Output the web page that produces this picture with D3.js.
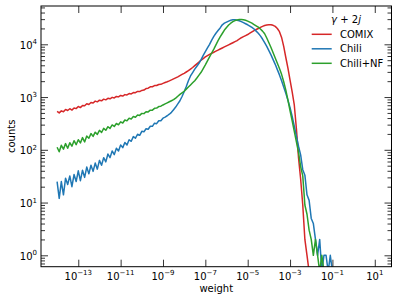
<!DOCTYPE html>
<html>
<head>
<meta charset="utf-8">
<script src="https://cdn.jsdelivr.net/npm/d3@7"></script>
<style>
  body { margin: 0; background: #fff; }
  svg { display: block; }
  text { font-family: "DejaVu Sans", sans-serif; fill: #000; }
</style>
</head>
<body>
<div id="chart"></div>
<script>
// bin centres, as log10(weight)
var logW = [
  -14.0, -13.9, -13.8, -13.7, -13.6, -13.5, -13.4, -13.3, -13.2, -13.1,
  -13.0, -12.9, -12.8, -12.7, -12.6, -12.5, -12.4, -12.3, -12.2, -12.1,
  -12.0, -11.9, -11.8, -11.7, -11.6, -11.5, -11.4, -11.3, -11.2, -11.1,
  -11.0, -10.9, -10.8, -10.7, -10.6, -10.5, -10.4, -10.3, -10.2, -10.1,
  -10.0, -9.9, -9.8, -9.7, -9.6, -9.5, -9.4, -9.3, -9.2, -9.1,
  -9.0, -8.9, -8.8, -8.7, -8.6, -8.5, -8.4, -8.3, -8.2, -8.1,
  -8.0, -7.9, -7.8, -7.7, -7.6, -7.5, -7.4, -7.3, -7.2, -7.1,
  -7.0, -6.9, -6.8, -6.7, -6.6, -6.5, -6.4, -6.3, -6.2, -6.1,
  -6.0, -5.9, -5.8, -5.7, -5.6, -5.5, -5.4, -5.3, -5.2, -5.1,
  -5.0, -4.9, -4.8, -4.7, -4.6, -4.5, -4.4, -4.3, -4.2, -4.1,
  -4.0, -3.9, -3.8, -3.7, -3.6, -3.5, -3.4, -3.3, -3.2, -3.1,
  -3.0, -2.9, -2.8, -2.7, -2.6, -2.5, -2.4, -2.3, -2.2, -2.1,
  -2.0, -1.9, -1.8, -1.7, -1.6, -1.5, -1.4, -1.3, -1.2, -1.1,
  -1.0
]

var comix = [
  537, 501, 547, 527, 583, 556, 601, 566, 619, 604,
  661, 631, 690, 682, 746, 721, 787, 771, 838, 811,
  871, 849, 912, 885, 946, 927, 986, 962, 1028, 1007,
  1072, 1045, 1112, 1094, 1164, 1146, 1219, 1208, 1279, 1268,
  1337, 1355, 1449, 1472, 1567, 1570, 1648, 1656, 1730, 1742,
  1820, 1888, 1954, 2028, 2113, 2208, 2307, 2410, 2541, 2679,
  2818, 2985, 3162, 3388, 3631, 3936, 4266, 4624, 5012, 5370,
  5754, 6095, 6457, 6761, 7079, 7413, 7762, 8128, 8511, 8913,
  9333, 9772, 10233, 10715, 11220, 11749, 12589, 13335, 13964, 14622,
  15311, 16218, 17179, 18197, 19055, 19953, 20893, 21878, 22646, 23174,
  23442, 23442, 22909, 21878, 19953, 17378, 13490, 9120, 5623, 3548,
  2089, 1259, 708, 251, 71, 28, 9, 2, 1, 0,
  0, 0, 0, 0, 0, 0, 0, 0, 0, 0,
  0
]

var chili = [
  25, 12, 25, 14, 29, 22, 32, 20, 34, 25,
  40, 26, 41, 30, 47, 35, 51, 39, 56, 43,
  63, 51, 71, 59, 83, 71, 95, 81, 107, 95,
  123, 110, 138, 123, 155, 145, 178, 166, 197, 188,
  224, 219, 251, 245, 279, 279, 320, 313, 355, 355,
  398, 417, 442, 473, 513, 575, 646, 741, 851, 1023,
  1259, 1585, 2042, 2512, 2917, 3388, 3846, 4365, 5129, 6166,
  7244, 8511, 10000, 12023, 14125, 16218, 18197, 20417, 23442, 25119,
  26303, 27542, 28510, 29174, 29174, 28510, 27861, 26915, 25704, 24547,
  23442, 22131, 20893, 19498, 17783, 16218, 14454, 12589, 10715, 9120,
  7586, 6310, 5129, 4169, 3311, 2630, 2042, 1549, 1175, 871,
  631, 427, 282, 182, 117, 80, 42, 33, 14, 11,
  5, 4, 2, 1, 2, 0, 1, 1, 0, 1,
  0
]

var chiliNF = [
  112, 92, 122, 103, 131, 107, 136, 117, 149, 125,
  155, 135, 170, 141, 182, 166, 203, 180, 216, 196,
  234, 213, 255, 234, 274, 254, 296, 277, 315, 298,
  339, 322, 368, 354, 395, 385, 428, 414, 457, 449,
  490, 485, 527, 522, 565, 565, 611, 617, 661, 670,
  708, 741, 776, 813, 851, 891, 955, 1035, 1122, 1202,
  1288, 1413, 1549, 1698, 1862, 2042, 2291, 2600, 2951, 3467,
  4074, 4842, 5754, 6839, 8128, 9772, 11749, 13804, 16032, 18621,
  20893, 23174, 25119, 26915, 28184, 28973, 29512, 29512, 29174, 28510,
  27542, 26303, 25119, 23714, 22387, 21135, 19498, 17783, 15849, 13183,
  10715, 8710, 6918, 5495, 4365, 3467, 2692, 1950, 1349, 871,
  550, 355, 224, 141, 89, 48, 32, 9, 6, 3,
  2, 1, 2, 1, 0, 1, 0, 0, 0, 0,
  0
]

var seriesNames = ["COMIX", "Chili", "Chili+NF"]
var seriesColors = ["#d62728", "#1f77b4", "#2ca02c"]
var xTickExp = [-13, -11, -9, -7, -5, -3, -1, 1]
var yTickExp = [0, 1, 2, 3, 4]

var width = 398,
    height = 302,
    margin = {top: 6, right: 6.5, bottom: 35.3, left: 41}

var svg = d3.select("#chart")
  .append("svg")
    .attr("width", width)
    .attr("height", height)

var x = d3.scaleLog()
  .domain([Math.pow(10, -14.76), Math.pow(10, 1.79)])
  .range([margin.left, width - margin.right])

var y = d3.scaleLog()
  .domain([Math.pow(10, -0.216), Math.pow(10, 4.726)])
  .range([height - margin.bottom, margin.top])

var x0 = margin.left, x1 = width - margin.right
var y0 = height - margin.bottom, y1 = margin.top

svg.append("clipPath").attr("id", "plotclip")
  .append("rect")
    .attr("x", x0).attr("y", y1)
    .attr("width", x1 - x0).attr("height", y0 - y1)

// histogram outlines, empty bins drop below the frame
var line = d3.line()
  .x(function(d) { return x(Math.pow(10, d[0])) })
  .y(function(d) { return d[1] > 0 ? y(d[1]) : y0 + 5 })

var allSeries = [comix, chili, chiliNF]
var plot = svg.append("g").attr("clip-path", "url(#plotclip)")
allSeries.forEach(function(vals, i) {
  plot.append("path")
    .datum(logW.map(function(e, j) { return [e, vals[j]] }))
    .attr("d", line)
    .attr("fill", "none")
    .attr("stroke", seriesColors[i])
    .attr("stroke-width", 1.5)
    .attr("stroke-linejoin", "round")
})

// ticks, pointing inwards on all four sides
var xTicks = xTickExp.map(function(e) { return Math.pow(10, e) })
var yTicks = yTickExp.map(function(e) { return Math.pow(10, e) })
var yMinor = y.ticks().filter(function(v) {
  var l = Math.log10(v)
  return Math.abs(l - Math.round(l)) > 1e-6
})

function styleAxis(g) {
  g.select(".domain").remove()
  g.selectAll("line").attr("stroke", "#000").attr("stroke-width", 0.8)
  g.selectAll("text").remove()
}

svg.append("g").attr("transform", "translate(0," + y0 + ")")
  .call(d3.axisBottom(x).tickValues(xTicks).tickSize(-7).tickFormat("")).call(styleAxis)
svg.append("g").attr("transform", "translate(0," + y1 + ")")
  .call(d3.axisTop(x).tickValues(xTicks).tickSize(-7).tickFormat("")).call(styleAxis)
svg.append("g").attr("transform", "translate(" + x0 + ",0)")
  .call(d3.axisLeft(y).tickValues(yTicks).tickSize(-7).tickFormat("")).call(styleAxis)
svg.append("g").attr("transform", "translate(" + x0 + ",0)")
  .call(d3.axisLeft(y).tickValues(yMinor).tickSize(-4).tickFormat("")).call(styleAxis)
svg.append("g").attr("transform", "translate(" + x1 + ",0)")
  .call(d3.axisRight(y).tickValues(yTicks).tickSize(-7).tickFormat("")).call(styleAxis)
svg.append("g").attr("transform", "translate(" + x1 + ",0)")
  .call(d3.axisRight(y).tickValues(yMinor).tickSize(-4).tickFormat("")).call(styleAxis)

// frame
svg.append("rect")
  .attr("x", x0).attr("y", y1)
  .attr("width", x1 - x0).attr("height", y0 - y1)
  .attr("fill", "none").attr("stroke", "#000").attr("stroke-width", 1)

function expText(sel, e) {
  sel.append("tspan").text("10")
  sel.append("tspan")
    .attr("font-size", 7)
    .attr("dy", -4.5)
    .text(String(e).replace("-", "\u2212"))
}

xTickExp.forEach(function(e) {
  var t = svg.append("text")
    .attr("x", x(Math.pow(10, e)))
    .attr("y", 279.5)
    .attr("text-anchor", "middle")
    .attr("font-size", 10)
  expText(t, e)
})

yTickExp.forEach(function(e) {
  var t = svg.append("text")
    .attr("x", 37)
    .attr("y", y(Math.pow(10, e)) + 4.5)
    .attr("text-anchor", "end")
    .attr("font-size", 10)
  expText(t, e)
})

// axis titles
svg.append("text")
  .attr("x", (x0 + x1) / 2)
  .attr("y", 291.5)
  .attr("text-anchor", "middle")
  .attr("font-size", 10)
  .text("weight")

svg.append("text")
  .attr("transform", "translate(15," + ((y0 + y1) / 2) + ") rotate(-90)")
  .attr("text-anchor", "middle")
  .attr("font-size", 10)
  .text("counts")

// legend
var title = svg.append("text")
  .attr("x", 346)
  .attr("y", 23)
  .attr("text-anchor", "middle")
  .attr("font-size", 10)
title.append("tspan").attr("font-style", "italic").text("\u03b3")
title.append("tspan").text(" + 2")
title.append("tspan").attr("font-style", "italic").text("j")

seriesNames.forEach(function(name, i) {
  var ly = 34.3 + i * 14.5
  svg.append("line")
    .attr("x1", 311.7).attr("x2", 331.7)
    .attr("y1", ly).attr("y2", ly)
    .attr("stroke", seriesColors[i])
    .attr("stroke-width", 1.5)
  svg.append("text")
    .attr("x", 340)
    .attr("y", ly + 3.6)
    .attr("font-size", 10)
    .text(name)
})
</script>
</body>
</html>
